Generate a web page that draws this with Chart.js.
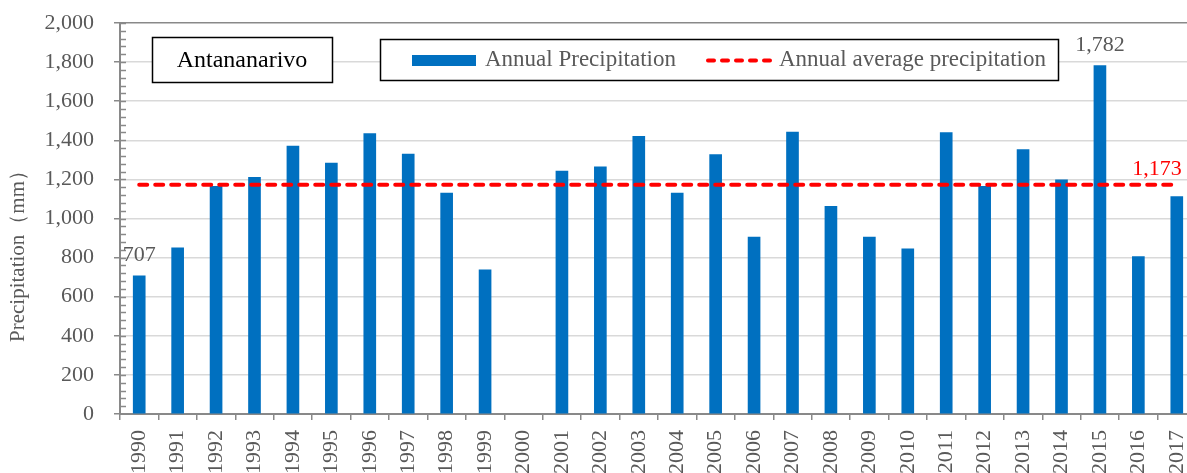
<!DOCTYPE html>
<html>
<head>
<meta charset="utf-8">
<script src="https://cdn.jsdelivr.net/npm/chart.js@4/dist/chart.umd.min.js"></script>
<style>
  html, body { margin: 0; padding: 0; background: #fff; overflow: hidden; }
  #wrap { width: 1187px; height: 473px; overflow: hidden; }
</style>
</head>
<body>
<div id="wrap"><canvas id="chart" width="1196" height="473"></canvas></div>
<script>
// Annual rainfall at Antananarivo, 1990–2017 (mm); no record for 2000
const years = ['1990','1991','1992','1993','1994','1995','1996','1997','1998','1999',
               '2000','2001','2002','2003','2004','2005','2006','2007','2008','2009',
               '2010','2011','2012','2013','2014','2015','2016','2017'];
const precipitation = [707, 850, 1165, 1210, 1371, 1283, 1434, 1330, 1130, 738,
                       null, 1242, 1264, 1420, 1130, 1327, 905, 1442, 1062, 905,
                       845, 1440, 1165, 1352, 1198, 1782, 805, 1112];
const averagePrecipitation = 1173;
const averageLine = years.map(() => averagePrecipitation);
const labelledYears = ['1990', '2015'];
const yTicks = [0, 200, 400, 600, 800, 1000, 1200, 1400, 1600, 1800, 2000];

const SERIF = "'Liberation Serif', 'Times New Roman', serif";
const GREY_TEXT = '#595959';
const AXIS = '#898989';
const BLUE = '#0070c0';
const RED = '#ff0000';

const fmt = v => v.toLocaleString('en-US');

// Title box, boxed legend, axis title, minor ticks and value labels
const decorations = {
  id: 'decorations',
  afterDraw(chart) {
    const ctx = chart.ctx;
    const y = chart.scales.y;
    const area = chart.chartArea;
    ctx.save();

    // minor ticks on the value axis, inside the plot
    ctx.strokeStyle = AXIS;
    ctx.lineWidth = 1.5;
    for (let v = 40; v <= 2000; v += 40) {
      const py = Math.round(y.getPixelForValue(v)) + 0.5;
      ctx.beginPath();
      ctx.moveTo(area.left, py);
      ctx.lineTo(area.left + 6, py);
      ctx.stroke();
    }

    // value axis title
    ctx.save();
    ctx.translate(18, 251);
    ctx.rotate(-Math.PI / 2);
    ctx.fillStyle = GREY_TEXT;
    ctx.font = '21px ' + SERIF;
    ctx.textAlign = 'center';
    ctx.textBaseline = 'middle';
    ctx.fillText('Precipitation（mm）', 0, 0);
    ctx.restore();

    // station name box
    ctx.fillStyle = '#fff';
    ctx.fillRect(152, 37, 180, 45);
    ctx.strokeStyle = '#000';
    ctx.lineWidth = 1.5;
    ctx.strokeRect(152.5, 37.5, 180, 45);
    ctx.fillStyle = '#000';
    ctx.font = '24px ' + SERIF;
    ctx.textAlign = 'center';
    ctx.textBaseline = 'middle';
    ctx.fillText('Antananarivo', 242, 61);

    // legend box
    const ds = chart.data.datasets;
    ctx.fillStyle = '#fff';
    ctx.fillRect(380, 39, 678, 41);
    ctx.strokeStyle = '#000';
    ctx.strokeRect(380.5, 39.5, 678, 41);
    ctx.fillStyle = BLUE;
    ctx.fillRect(412, 55, 64, 11);
    ctx.strokeStyle = RED;
    ctx.lineWidth = 4;
    ctx.lineCap = 'round';
    ctx.setLineDash([6, 8]);
    ctx.beginPath();
    ctx.moveTo(708, 60.5);
    ctx.lineTo(770, 60.5);
    ctx.stroke();
    ctx.setLineDash([]);
    ctx.fillStyle = GREY_TEXT;
    ctx.font = '23px ' + SERIF;
    ctx.textAlign = 'left';
    ctx.textBaseline = 'middle';
    ctx.fillText(ds[1].label, 485, 60);
    ctx.fillText(ds[0].label, 779, 60);

    // value labels on selected bars
    const barMeta = chart.getDatasetMeta(1);
    ctx.font = '22px ' + SERIF;
    ctx.textAlign = 'center';
    ctx.textBaseline = 'alphabetic';
    ctx.fillStyle = GREY_TEXT;
    labelledYears.forEach(yr => {
      const i = years.indexOf(yr);
      const bar = barMeta.data[i];
      ctx.fillText(fmt(precipitation[i]), bar.x, bar.y - 15);
    });

    // average value at the end of the dashed line
    const lineMeta = chart.getDatasetMeta(0);
    const last = lineMeta.data[lineMeta.data.length - 1];
    ctx.fillStyle = RED;
    ctx.textAlign = 'right';
    ctx.fillText(fmt(averagePrecipitation), last.x + 5, last.y - 10);

    ctx.restore();
  }
};

new Chart(document.getElementById('chart'), {
  type: 'bar',
  data: {
    labels: years,
    datasets: [
      {
        type: 'line',
        label: 'Annual average precipitation',
        data: averageLine,
        borderColor: RED,
        borderWidth: 4,
        borderDash: [8, 8],
        borderCapStyle: 'round',
        pointRadius: 0,
        fill: false,
        order: 0
      },
      {
        type: 'bar',
        label: 'Annual Precipitation',
        data: precipitation,
        backgroundColor: BLUE,
        barThickness: 12,
        order: 1
      }
    ]
  },
  options: {
    responsive: false,
    animation: false,
    layout: { padding: { top: 23, left: 0, right: 0, bottom: 0 } },
    plugins: {
      legend: { display: false },
      title: { display: false },
      tooltip: { enabled: false }
    },
    scales: {
      x: {
        offset: true,
        grid: { offset: true, drawOnChartArea: false, drawTicks: true, tickLength: 6, color: AXIS, lineWidth: 1.5 },
        border: { color: AXIS, width: 2 },
        ticks: {
          minRotation: 90, maxRotation: 90, autoSkip: false,
          color: GREY_TEXT, font: { family: SERIF, size: 22 }, padding: 10
        },
        afterFit: s => { s.height = 59; s.paddingLeft = 0; s.paddingRight = 0; }
      },
      y: {
        min: 0, max: 2000,
        afterBuildTicks: s => { s.ticks = yTicks.map(v => ({ value: v })); },
        grid: {
          color: c => (c.tick && c.tick.value === 2000 ? AXIS : '#d9d9d9'),
          lineWidth: 1.5,
          tickLength: 6,
          tickColor: AXIS
        },
        border: { color: AXIS, width: 2 },
        ticks: {
          color: GREY_TEXT, font: { family: SERIF, size: 22 }, padding: 20,
          callback: v => fmt(v)
        },
        afterFit: s => { s.width = 120; s.paddingTop = 0; s.paddingBottom = 0; }
      }
    }
  },
  plugins: [decorations]
});
</script>
</body>
</html>
